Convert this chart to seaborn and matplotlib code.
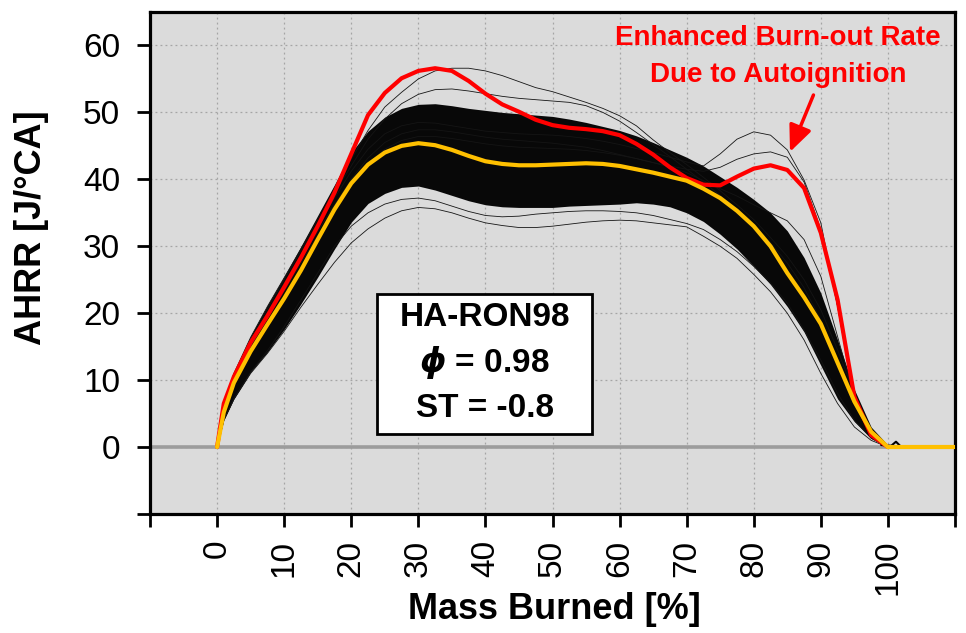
import matplotlib
matplotlib.use("Agg")
import matplotlib.pyplot as plt
import seaborn as sns
import pandas as pd
from matplotlib.patches import Rectangle

# ---------------- data ----------------
mass_burned = [0, 1, 2.5, 5, 7.5, 10, 12.5, 15, 17.5, 20, 22.5, 25, 27.5, 30, 32.5, 35, 37.5,
               40, 42.5, 45, 47.5, 50, 52.5, 55, 57.5, 60, 62.5, 65, 67.5, 70, 72.5, 75, 77.5,
               80, 82.5, 85, 87.5, 90, 92.5, 95, 97.5, 100]

mean_ahrr = [0, 5.2, 9.6, 14.3, 18.3, 22.2, 26.4, 31.0, 35.5, 39.4, 42.2, 44.0, 45.0, 45.4, 45.1,
             44.4, 43.5, 42.7, 42.3, 42.1, 42.1, 42.2, 42.3, 42.4, 42.3, 42.0, 41.5, 41.0, 40.4,
             39.8, 38.6, 37.2, 35.3, 33.0, 30.0, 26.0, 22.4, 18.4, 12.6, 6.8, 2.3, 0]
mean_tail_x = [100, 110]
mean_tail_y = [0, 0]

red_cycle = [0, 6.5, 10.5, 15.6, 19.6, 23.9, 28.3, 33.0, 38.0, 43.8, 49.6, 52.9, 55.1, 56.2, 56.6,
             56.2, 54.7, 52.8, 51.2, 50.1, 48.9, 48.1, 47.7, 47.5, 47.2, 46.6, 45.3, 43.7, 41.8,
             40.2, 39.2, 39.1, 40.4, 41.6, 42.1, 41.4, 38.7, 32.0, 22.0, 7.5, 1.8, 0]

# dense core of the ~200 cycle cloud
core_high = [0, 6.8, 11.2, 16.6, 21.2, 25.5, 30.0, 34.6, 39.2, 44.0, 47.2, 49.3, 50.6, 51.2, 51.3,
             51.0, 50.6, 50.3, 50.0, 49.8, 49.6, 49.4, 49.0, 48.5, 47.9, 47.3, 46.5, 45.5, 44.4,
             43.3, 42.0, 40.4, 38.8, 37.0, 35.0, 32.3, 28.3, 23.0, 16.0, 8.6, 3.0, 0.3]
core_low = [0, 4.0, 7.2, 11.2, 14.2, 17.6, 21.4, 25.4, 29.6, 33.6, 36.4, 37.9, 38.8, 39.0, 38.4,
            37.6, 36.8, 36.2, 35.9, 35.8, 35.8, 35.8, 36.0, 36.1, 36.2, 36.3, 36.5, 36.3, 35.9,
            35.0, 33.7, 31.8, 29.6, 27.0, 24.3, 21.0, 17.2, 12.2, 7.2, 3.8, 1.3, 0]

# individual cycles visible outside the dense core
cycle_high_1 = [0, 6.6, 11.0, 16.4, 21.0, 25.3, 29.6, 34.0, 38.6, 43.0, 47.3, 50.8, 53.0, 55.0, 56.2,
                56.6, 56.6, 56.2, 55.5, 54.6, 53.7, 53.1, 52.3, 51.5, 50.6, 49.5, 48.0, 45.9, 44.0,
                42.2, 40.3, 38.3, 36.2, 34.0, 31.3, 28.5, 25.0, 20.5, 14.5, 8.0, 2.6, 0.2]
cycle_high_2 = [0, 6.4, 10.8, 16.0, 20.6, 25.0, 29.3, 33.6, 38.0, 42.0, 46.0, 49.0, 51.3, 52.7, 53.4,
                53.5, 53.2, 52.8, 52.4, 52.1, 51.9, 51.7, 51.5, 51.0, 50.0, 48.7, 47.0, 45.2, 43.4,
                41.5, 39.6, 37.6, 35.5, 33.2, 30.5, 27.5, 23.8, 19.0, 13.0, 6.5, 2.2, 0.1]
cycle_knock_1 = [0, 6.3, 10.6, 15.8, 20.2, 24.5, 28.8, 33.0, 37.2, 41.2, 44.5, 46.8, 48.0, 48.5, 48.4,
                 48.0, 47.6, 47.2, 47.0, 46.8, 46.7, 46.6, 46.4, 46.1, 45.7, 45.2, 44.6, 44.0, 43.3,
                 42.6, 42.0, 43.8, 46.0, 47.1, 46.6, 44.4, 39.9, 33.5, 21.0, 7.5, 2.0, 0.2]
cycle_knock_2 = [0, 6.0, 10.2, 15.3, 19.6, 23.8, 28.0, 32.2, 36.2, 40.0, 43.2, 45.5, 46.8, 47.4, 47.4,
                 47.1, 46.7, 46.3, 46.0, 45.8, 45.6, 45.4, 45.1, 44.8, 44.3, 43.7, 43.1, 42.5, 42.0,
                 41.5, 41.2, 41.8, 43.0, 43.8, 44.1, 43.3, 39.6, 32.5, 21.0, 7.0, 2.0, 0.2]
cycle_late = [0, 5.8, 10.0, 15.0, 19.2, 23.3, 27.5, 31.6, 35.6, 39.3, 42.4, 44.5, 45.8, 46.4, 46.4,
              46.1, 45.7, 45.3, 45.0, 44.8, 44.7, 44.6, 44.5, 44.3, 44.0, 43.6, 43.1, 42.5, 41.8,
              41.0, 39.8, 38.6, 37.5, 36.2, 35.0, 33.8, 31.0, 25.5, 16.5, 7.5, 2.0, 0.1]
cycle_low_1 = [0, 4.0, 7.1, 11.0, 14.0, 17.3, 20.9, 24.3, 27.6, 30.5, 32.6, 34.2, 35.3, 35.8, 35.6,
               35.0, 34.2, 33.5, 33.1, 32.8, 32.8, 33.0, 33.3, 33.6, 33.8, 33.9, 33.8, 33.5, 33.2,
               32.9, 31.5, 30.0, 28.2, 25.8, 23.2, 20.0, 16.0, 11.0, 6.5, 3.0, 1.0, 0]
cycle_low_2 = [0, 4.0, 7.2, 11.2, 14.4, 18.0, 22.0, 26.0, 30.0, 33.0, 35.0, 36.3, 37.0, 37.2, 36.8,
               36.0, 35.2, 34.6, 34.4, 34.5, 34.8, 35.0, 35.2, 35.3, 35.3, 35.2, 35.0, 34.6, 34.0,
               33.4, 32.5, 31.0, 29.2, 27.0, 24.5, 21.5, 17.5, 13.0, 8.0, 4.0, 1.3, 0]
blip_x = [99, 100.5, 101.2, 102]
blip_y = [0.3, 0.2, 0.8, 0]

x_ticks = list(range(-10, 111, 10))
x_tick_labels = [""] + [str(v) for v in range(0, 101, 10)] + [""]
y_ticks = list(range(-10, 61, 10))
y_tick_labels = [""] + [str(v) for v in range(0, 61, 10)]

box_lines = ["HA-RON98", r"$\phi$ = 0.98", "ST = -0.8"]
annotation_lines = ["Enhanced Burn-out Rate", "Due to Autoignition"]

# ---------------- styling ----------------
sns.set_theme(style="white")
plt.rcParams["font.family"] = ["Liberation Sans", "DejaVu Sans"]
plt.rcParams["mathtext.fontset"] = "custom"
plt.rcParams["mathtext.it"] = "DejaVu Sans:italic:bold"
plt.rcParams["mathtext.rm"] = "Liberation Sans:bold"
plt.rcParams["mathtext.bf"] = "Liberation Sans:bold"

fig = plt.figure(figsize=(9.66, 6.33), dpi=100)
ax = fig.add_axes([150 / 966, 1 - 514 / 633, 805 / 966, 502 / 633])
ax.set_facecolor("#DBDBDB")
ax.set_xlim(-10, 110)
ax.set_ylim(-10, 65)

ax.set_axisbelow(True)
ax.grid(True, color="#A5A5A5", linestyle=(0, (1.5, 2.5)), linewidth=0.9)
ax.axhline(0, color="#9C9C9C", lw=2.6, zorder=1.5)

# dense cloud of cycles
ax.fill_between(mass_burned, core_low, core_high, color="#080808", lw=0, zorder=3)

cycles = {
    "high_1": cycle_high_1, "high_2": cycle_high_2, "knock_1": cycle_knock_1,
    "knock_2": cycle_knock_2, "late": cycle_late, "low_1": cycle_low_1, "low_2": cycle_low_2,
}
df = pd.concat([pd.DataFrame({"mass": mass_burned, "ahrr": v, "cycle": k}) for k, v in cycles.items()],
               ignore_index=True)
sns.lineplot(data=df, x="mass", y="ahrr", units="cycle", estimator=None, color="#151515",
             lw=0.6, ax=ax, sort=False, legend=False, zorder=4)
sns.lineplot(x=blip_x, y=blip_y, color="black", lw=1.5, ax=ax, sort=False, zorder=4)

sns.lineplot(x=mass_burned, y=red_cycle, color="#FF0000", lw=3.0, ax=ax, sort=False, zorder=5)
sns.lineplot(x=mass_burned, y=mean_ahrr, color="#FFC000", lw=3.0, ax=ax, sort=False, zorder=6)
sns.lineplot(x=mean_tail_x, y=mean_tail_y, color="#FFC000", lw=3.0, ax=ax, sort=False, zorder=6)

# ticks & spines
ax.set_xticks(x_ticks)
ax.set_xticklabels(x_tick_labels, rotation=90)
ax.set_yticks(y_ticks)
ax.set_yticklabels(y_tick_labels)
ax.tick_params(axis="both", which="major", bottom=True, left=True, direction="out",
               length=9.5, width=2.0, color="black", labelcolor="black", labelsize=24)
ax.tick_params(axis="x", pad=9)
ax.tick_params(axis="y", pad=12)
for s in ax.spines.values():
    s.set_visible(True)
    s.set_color("black")
    s.set_linewidth(2.3)

ax.set_xlabel("Mass Burned [%]", fontsize=26, fontweight="bold", color="black")
ax.set_ylabel("AHRR [J/°CA]", fontsize=26, fontweight="bold", color="black")
ax.xaxis.set_label_coords(0.5025, -0.155)
ax.yaxis.set_label_coords(-0.125, 0.57)

# text box
ax.add_patch(Rectangle((23.9, 1.9), 32.0, 20.9, facecolor="white", edgecolor="black",
                       lw=2.0, zorder=7))
for ty, txt in zip([19.4, 12.5, 5.8], box_lines):
    ax.text(39.9, ty, txt, ha="center", va="center", fontsize=24, fontweight="bold",
            color="black", zorder=8)

# annotation
for ty, txt in zip([60.1, 54.5], annotation_lines):
    ax.text(83.6, ty, txt, ha="center", va="baseline", fontsize=20,
            fontweight="bold", color="#FF0000", zorder=8)
ax.annotate("", xy=(85.4, 44.1), xytext=(88.9, 52.6),
            arrowprops=dict(arrowstyle="-|>,head_length=0.8,head_width=0.35", color="#FF0000",
                            lw=2.5, shrinkA=0, shrinkB=0, mutation_scale=20), zorder=8)

fig.savefig("out.png", dpi=100, facecolor="white")
